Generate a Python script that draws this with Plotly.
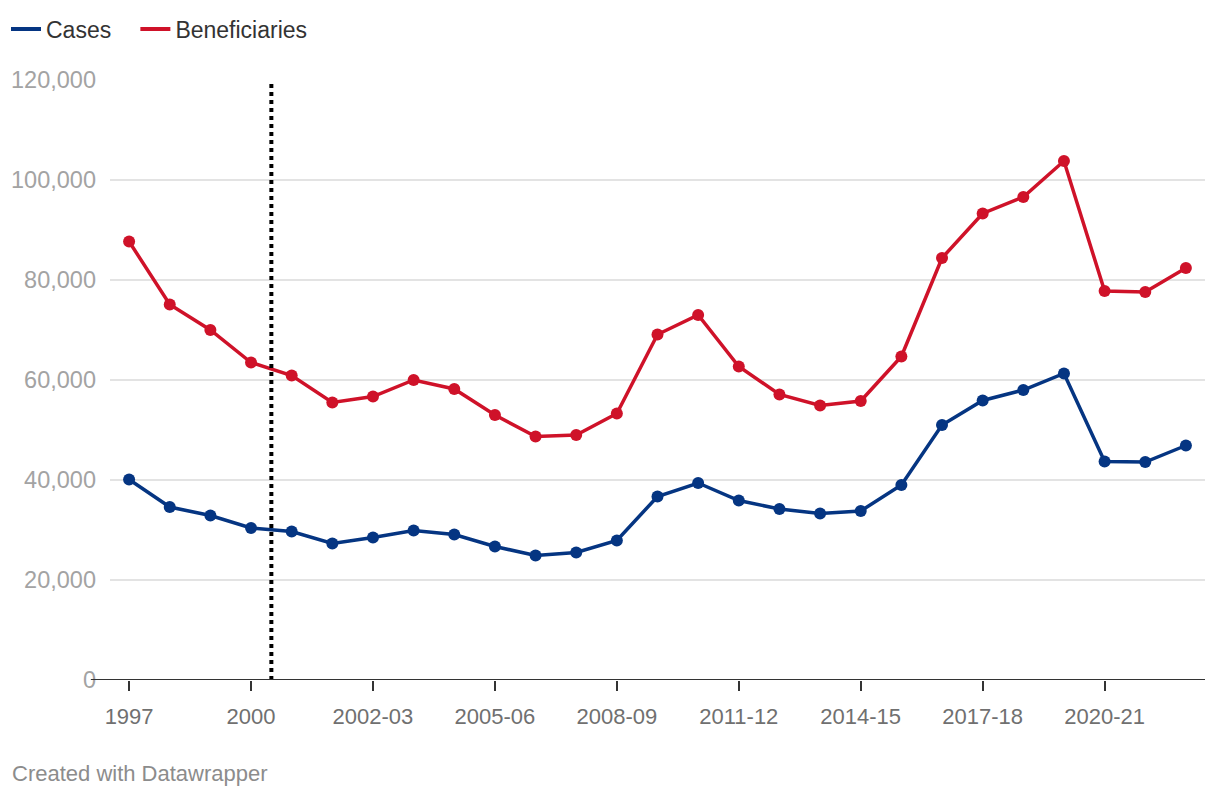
import plotly.graph_objects as go

years = ["1997", "1998", "1999", "2000", "2000-01", "2001-02", "2002-03", "2003-04",
         "2004-05", "2005-06", "2006-07", "2007-08", "2008-09", "2009-10", "2010-11",
         "2011-12", "2012-13", "2013-14", "2014-15", "2015-16", "2016-17", "2017-18",
         "2018-19", "2019-20", "2020-21", "2021-22", "2022-23"]

cases = [40100, 34600, 32900, 30400, 29700, 27300, 28500, 29900, 29100, 26700,
         24900, 25500, 27900, 36700, 39400, 35900, 34200, 33300, 33800, 39000,
         51000, 55900, 58000, 61300, 43700, 43600, 46900]

beneficiaries = [87700, 75100, 70000, 63500, 60900, 55500, 56700, 60000, 58200, 53000,
                 48700, 49000, 53300, 69100, 73000, 62700, 57100, 54900, 55800, 64700,
                 84400, 93300, 96600, 103800, 77800, 77600, 82400]

tick_labels = ["1997", "2000", "2002-03", "2005-06", "2008-09", "2011-12",
               "2014-15", "2017-18", "2020-21"]
y_ticks = [0, 20000, 40000, 60000, 80000, 100000, 120000]

BLUE = "#053582"
RED = "#cf1229"
FONT = "Liberation Sans, Arial, Helvetica, sans-serif"

fig = go.Figure()
for name, vals, col in [("Cases", cases, BLUE), ("Beneficiaries", beneficiaries, RED)]:
    fig.add_trace(go.Scatter(
        x=years, y=vals, mode="lines+markers", name=name,
        line=dict(color=col, width=3.5), marker=dict(color=col, size=12),
        showlegend=False, hoverinfo="x+y+name"))
# legend-only entries (line symbol only)
for name, col in [("Cases\u00a0\u00a0\u00a0", BLUE), ("Beneficiaries", RED)]:
    fig.add_trace(go.Scatter(x=[None], y=[None], mode="lines", name=name,
                             line=dict(color=col, width=4)))

fig.add_shape(type="line", xref="x", yref="y", x0=3.5, x1=3.5, y0=0, y1=120000,
              line=dict(color="black", width=4, dash="dot"))
fig.add_shape(type="line", xref="paper", yref="y", x0=-0.0175, x1=1, y0=0, y1=0,
              line=dict(color="#333333", width=2))

fig.add_annotation(text="Created with Datawrapper", xref="paper", yref="paper",
                   x=-100/1095, y=-(773-680)/600, xanchor="left", yanchor="middle",
                   showarrow=False, font=dict(size=22, color="#8c8c8c", family=FONT))

fig.update_layout(
    width=1220, height=798,
    margin=dict(l=110, r=15, t=80, b=118, autoexpand=False),
    paper_bgcolor="white", plot_bgcolor="white",
    font=dict(family=FONT),
    showlegend=True,
    legend=dict(orientation="h", xref="container", yref="container",
                x=6/1220, xanchor="left", y=1 - 29/798, yanchor="middle",
                font=dict(size=23, color="#333333"), itemwidth=30,
                bgcolor="rgba(0,0,0,0)"),
    xaxis=dict(type="category", range=[-0.47, 26.47], tickmode="array",
               tickvals=tick_labels, ticktext=tick_labels, automargin=False,
               showgrid=False, zeroline=False, showline=False,
               ticks="outside", ticklen=10, tickwidth=2, tickcolor="#333333",
               ticklabelstandoff=7,
               tickfont=dict(size=22, color="#707070", family=FONT)),
    yaxis=dict(range=[0, 120000], tickvals=y_ticks, tickformat=",", automargin=False,
               showgrid=True, gridcolor="#e3e3e3", gridwidth=2,
               zeroline=False, showline=False, ticks="",
               ticklabelstandoff=13,
               tickfont=dict(size=23.5, color="#a3a3a3", family=FONT)),
)

fig.write_html("out.html", config={"displayModeBar": False},
               post_script="document.body.style.margin='0';document.body.style.overflow='hidden';")
